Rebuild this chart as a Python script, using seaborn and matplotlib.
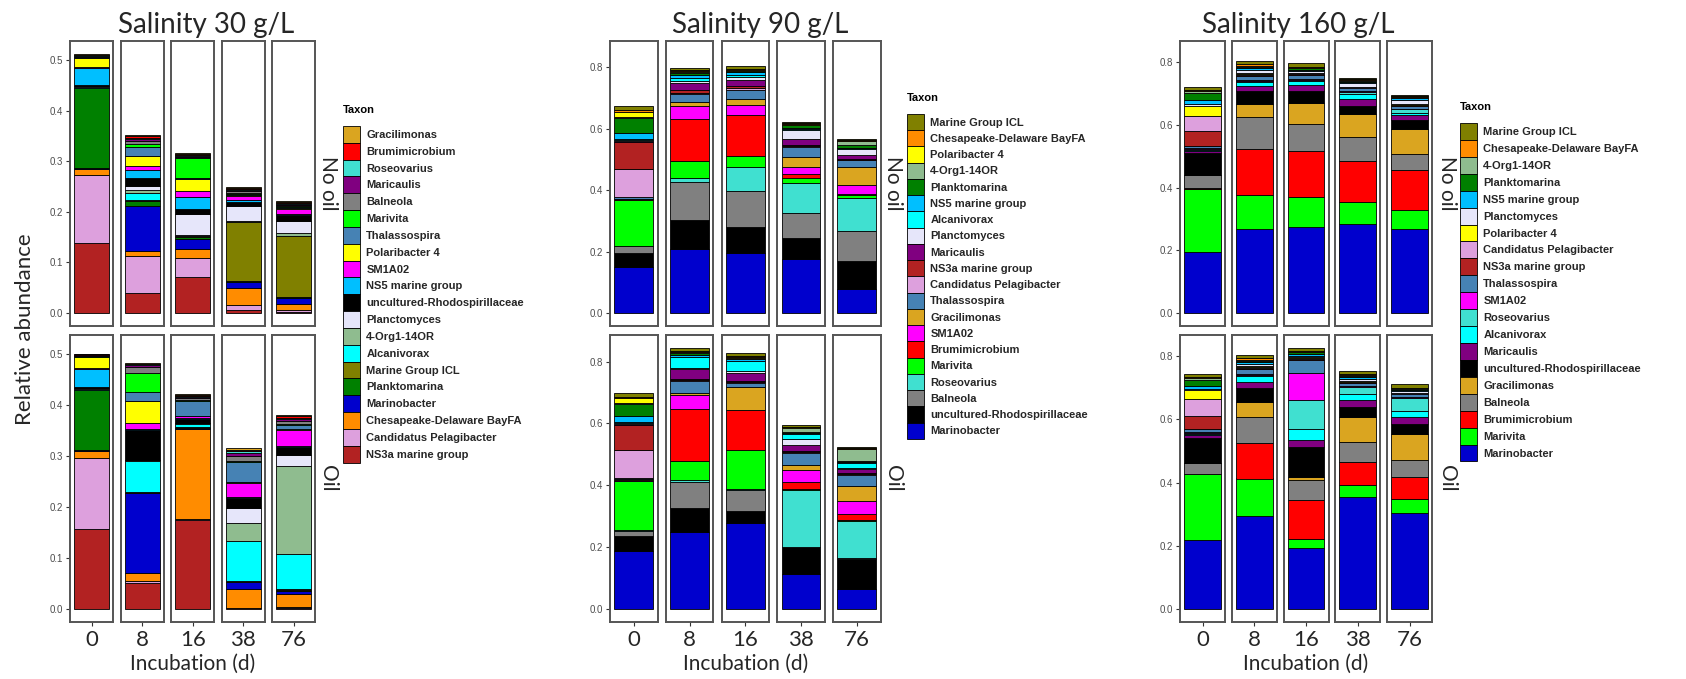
import numpy as np
import matplotlib
matplotlib.use("Agg")
import matplotlib.pyplot as plt
from matplotlib.patches import Patch
import seaborn as sns

sns.set_style("white")
plt.rcParams["font.family"] = ["Lato", "DejaVu Sans"]

# ---------------------------------------------------------------- data
DAYS = ["0", "8", "16", "38", "76"]
TREATMENTS = ["No oil", "Oil"]

TAXON_COLORS = {
    "Gracilimonas": "#DAA520",
    "Brumimicrobium": "#FF0000",
    "Roseovarius": "#40E0D0",
    "Maricaulis": "#800080",
    "Balneola": "#808080",
    "Marivita": "#00FF00",
    "Thalassospira": "#4682B4",
    "Polaribacter 4": "#FFFF00",
    "SM1A02": "#FF00FF",
    "NS5 marine group": "#00BFFF",
    "uncultured-Rhodospirillaceae": "#000000",
    "Planctomyces": "#E6E6FA",
    "4-Org1-14OR": "#8FBC8F",
    "Alcanivorax": "#00FFFF",
    "Marine Group ICL": "#808000",
    "Planktomarina": "#008000",
    "Marinobacter": "#0000CD",
    "Chesapeake-Delaware BayFA": "#FF8C00",
    "Candidatus Pelagibacter": "#DDA0DD",
    "NS3a marine group": "#B22222",
}

# stacking order, bottom of the bar first (legend shows it reversed)
STACK_30 = ["NS3a marine group", "Candidatus Pelagibacter", "Chesapeake-Delaware BayFA",
            "Marinobacter", "Planktomarina", "Marine Group ICL", "Alcanivorax",
            "4-Org1-14OR", "Planctomyces", "uncultured-Rhodospirillaceae",
            "NS5 marine group", "SM1A02", "Polaribacter 4", "Thalassospira", "Marivita",
            "Balneola", "Maricaulis", "Roseovarius", "Brumimicrobium", "Gracilimonas"]
STACK_90 = ["Marinobacter", "uncultured-Rhodospirillaceae", "Balneola", "Roseovarius",
            "Marivita", "Brumimicrobium", "SM1A02", "Gracilimonas", "Thalassospira",
            "Candidatus Pelagibacter", "NS3a marine group", "Maricaulis", "Planctomyces",
            "Alcanivorax", "NS5 marine group", "Planktomarina", "4-Org1-14OR",
            "Polaribacter 4", "Chesapeake-Delaware BayFA", "Marine Group ICL"]
STACK_160 = ["Marinobacter", "Marivita", "Brumimicrobium", "Balneola", "Gracilimonas",
             "uncultured-Rhodospirillaceae", "Maricaulis", "Alcanivorax", "Roseovarius",
             "SM1A02", "Thalassospira", "NS3a marine group", "Candidatus Pelagibacter",
             "Polaribacter 4", "Planctomyces", "NS5 marine group", "Planktomarina",
             "4-Org1-14OR", "Chesapeake-Delaware BayFA", "Marine Group ICL"]

# relative abundance per day (rows: 0, 8, 16, 38, 76), columns in stacking order
S30_NO_OIL = [
    [.139, .133, .013, .001, .158, .001, .001, .001, .001, .003, .034, .002, .017, .001, .001, .001, .001, .001, .001, .002],
    [.039, .074, .010, .088, .011, .002, .014, .006, .008, .015, .016, .007, .020, .018, .006, .006, .003, .003, .003, .002],
    [.072, .036, .019, .019, .004, .002, .001, .001, .042, .009, .024, .012, .023, .003, .039, .003, .002, .002, .001, .002],
    [.006, .010, .033, .012, .002, .116, .001, .002, .030, .008, .003, .009, .001, .002, .003, .003, .002, .002, .002, .002],
    [.003, .003, .012, .012, .002, .120, .001, .006, .022, .013, .002, .010, .001, .002, .002, .002, .002, .002, .002, .002],
]
S30_OIL = [
    [.157, .140, .013, .001, .118, .001, .001, .001, .001, .003, .035, .001, .022, .001, .001, .001, .001, .001, .001, .001],
    [.050, .004, .017, .156, .001, .001, .062, .001, .001, .059, .002, .010, .045, .016, .039, .010, .004, .002, .001, .002],
    [.175, .001, .178, .001, .001, .001, .005, .002, .001, .008, .001, .004, .001, .030, .001, .004, .002, .002, .002, .002],
    [.001, .001, .037, .013, .001, .001, .080, .035, .029, .020, .002, .028, .001, .040, .002, .010, .005, .003, .003, .003],
    [.002, .001, .027, .005, .002, .003, .068, .172, .022, .016, .002, .032, .001, .008, .002, .005, .004, .003, .003, .003],
]
S90_NO_OIL = [
    [.150, .046, .022, .001, .150, .001, .001, .001, .005, .093, .086, .005, .003, .004, .020, .048, .002, .017, .007, .012],
    [.210, .094, .124, .011, .057, .135, .045, .011, .025, .005, .008, .025, .005, .012, .008, .008, .003, .002, .003, .008],
    [.196, .083, .119, .079, .035, .134, .032, .020, .030, .004, .006, .020, .012, .006, .008, .004, .002, .002, .002, .010],
    [.175, .070, .081, .097, .016, .013, .025, .032, .032, .002, .004, .020, .030, .004, .003, .007, .003, .002, .002, .005],
    [.078, .091, .097, .108, .011, .004, .028, .060, .021, .002, .002, .014, .018, .003, .002, .010, .010, .002, .002, .004],
]
S90_OIL = [
    [.187, .050, .016, .002, .158, .002, .002, .002, .005, .090, .080, .005, .003, .003, .018, .040, .003, .016, .005, .010],
    [.250, .076, .086, .004, .061, .170, .046, .004, .041, .003, .004, .030, .004, .036, .008, .004, .003, .002, .002, .010],
    [.278, .038, .069, .003, .127, .127, .003, .072, .015, .003, .004, .025, .006, .032, .005, .003, .003, .002, .003, .010],
    [.113, .087, .002, .184, .003, .022, .040, .016, .038, .002, .003, .020, .020, .016, .004, .004, .012, .002, .002, .004],
    [.065, .097, .002, .122, .003, .018, .042, .048, .037, .002, .003, .014, .004, .015, .003, .003, .040, .001, .002, .004],
]
S160_NO_OIL = [
    [.194, .203, .001, .041, .001, .070, .006, .003, .003, .003, .008, .048, .047, .033, .007, .012, .020, .008, .004, .008],
    [.267, .109, .147, .102, .042, .042, .016, .010, .004, .003, .015, .003, .002, .002, .010, .008, .004, .003, .004, .010],
    [.274, .097, .145, .086, .069, .038, .019, .012, .004, .003, .013, .002, .002, .002, .006, .004, .004, .002, .002, .012],
    [.284, .069, .131, .076, .076, .024, .021, .016, .008, .003, .008, .002, .002, .002, .012, .004, .003, .002, .002, .005],
    [.267, .061, .129, .050, .079, .030, .015, .008, .010, .003, .008, .002, .002, .002, .014, .004, .003, .002, .002, .005],
]
S160_OIL = [
    [.217, .209, .001, .034, .001, .080, .008, .003, .003, .003, .010, .042, .053, .028, .004, .010, .020, .005, .004, .010],
    [.294, .119, .113, .082, .047, .045, .018, .020, .004, .003, .015, .004, .003, .003, .005, .006, .004, .003, .006, .010],
    [.193, .028, .124, .063, .011, .094, .021, .037, .089, .087, .042, .003, .003, .002, .004, .006, .005, .003, .003, .008],
    [.353, .039, .074, .063, .079, .031, .021, .021, .021, .004, .010, .002, .002, .002, .006, .006, .004, .003, .003, .008],
    [.303, .044, .071, .055, .082, .030, .023, .020, .040, .003, .008, .002, .002, .002, .004, .004, .003, .002, .003, .010],
]

# ---------------------------------------------------------------- layout
W, H = 1686, 679
fig = plt.figure(figsize=(W / 100, H / 100), dpi=100)
fig.patch.set_facecolor("white")

TEXT = "#262626"
TICK_TEXT = "#4D4D4D"
FRAME = "#555555"
ROWS = {"No oil": (41, 326), "Oil": (335, 622)}

PANELS = [
    dict(title="Salinity 30 g/L", stack=STACK_30, data={"No oil": S30_NO_OIL, "Oil": S30_OIL},
         left=70, width=43, step=50.6, yticks=np.arange(0, 0.51, 0.1),
         title_x=206, strip_x=328, legend_x=343, legend_top=126, key_h=21.7, taxon_y=110),
    dict(title="Salinity 90 g/L", stack=STACK_90, data={"No oil": S90_NO_OIL, "Oil": S90_OIL},
         left=610, width=47.5, step=55.75, yticks=np.arange(0, 0.81, 0.2),
         title_x=760, strip_x=893, legend_x=907, legend_top=114, key_h=20.8, taxon_y=98),
    dict(title="Salinity 160 g/L", stack=STACK_160, data={"No oil": S160_NO_OIL, "Oil": S160_OIL},
         left=1180, width=45, step=51.75, yticks=np.arange(0, 0.81, 0.2),
         title_x=1298, strip_x=1447, legend_x=1460, legend_top=123, key_h=21.85, taxon_y=107),
]


def rect(x0, y0, x1, y1):
    return [x0 / W, 1 - y1 / H, (x1 - x0) / W, (y1 - y0) / H]


LEGEND_FS = 8
LEGEND_PX = LEGEND_FS * 100 / 72

for p in PANELS:
    stack = p["stack"]
    totals = [sum(v) for t in TREATMENTS for v in p["data"][t]]
    ymax = max(totals)
    ylim = (-0.05 * ymax, 1.05 * ymax)

    for treatment in TREATMENTS:
        top, bottom = ROWS[treatment]
        for j, day in enumerate(DAYS):
            x0 = p["left"] + j * p["step"]
            ax = fig.add_axes(rect(x0, top, x0 + p["width"], bottom))
            base = 0.0
            for taxon, value in zip(stack, p["data"][treatment][j]):
                sns.barplot(x=[day], y=[value], bottom=base, color=TAXON_COLORS[taxon],
                            saturation=1, width=0.9, edgecolor="black", linewidth=0.6,
                            errorbar=None, ax=ax)
                base += value
            ax.set_xlim(-0.55, 0.55)
            ax.set_ylim(*ylim)
            ax.set_xlabel("")
            ax.set_ylabel("")
            ax.set_facecolor("white")
            for s in ax.spines.values():
                s.set_color(FRAME)
                s.set_linewidth(1.4)
            if j == 0:
                ax.set_yticks(p["yticks"])
                ax.set_yticklabels([f"{t:.1f}" for t in p["yticks"]])
                ax.tick_params(axis="y", left=True, length=3, width=0.8, color="#333333",
                               labelsize=7, labelcolor=TICK_TEXT, pad=2,
                               labelfontfamily="Liberation Sans")
            else:
                ax.set_yticks([])
            if treatment == "Oil":
                ax.set_xticks([0])
                ax.set_xticklabels([day])
                ax.tick_params(axis="x", bottom=True, length=3, width=0.8, color="#333333",
                               labelsize=16, labelcolor=TEXT, pad=3)
            else:
                ax.set_xticks([])

        # facet strip label on the right
        fig.text(p["strip_x"] / W, 1 - (top + bottom) / 2 / H, treatment, rotation=270,
                 ha="center", va="center", fontsize=15, color=TEXT)

    span_l = p["left"]
    span_r = p["left"] + 4 * p["step"] + p["width"]
    fig.text(p["title_x"] / W, 1 - 25 / H, p["title"], ha="center", va="center",
             fontsize=20, color=TEXT)
    fig.text((span_l + span_r) / 2 / W, 1 - 664 / H, "Incubation (d)", ha="center",
             va="center", fontsize=15, color=TEXT)

    # legend: top of the legend lists the top of the stack
    legend_taxa = stack[::-1]
    handles = [Patch(facecolor=TAXON_COLORS[t], edgecolor="black", linewidth=0.6)
               for t in legend_taxa]
    fig.legend(handles, legend_taxa, loc="upper left",
               bbox_to_anchor=(p["legend_x"] / W, 1 - p["legend_top"] / H),
               frameon=False, borderpad=0, borderaxespad=0, labelspacing=0,
               handlelength=1.55, handleheight=p["key_h"] / LEGEND_PX, handletextpad=0.55,
               prop={"family": "Liberation Sans", "weight": "bold", "size": LEGEND_FS})
    fig.text(p["legend_x"] / W, 1 - p["taxon_y"] / H, "Taxon", ha="left", va="center",
             fontsize=LEGEND_FS, fontweight="bold", family="Liberation Sans", color="black")

fig.text(25 / W, 1 - 329 / H, "Relative abundance", rotation=90, ha="center", va="center",
         fontsize=16, color=TEXT)

fig.savefig("out.png", dpi=100, facecolor="white")
